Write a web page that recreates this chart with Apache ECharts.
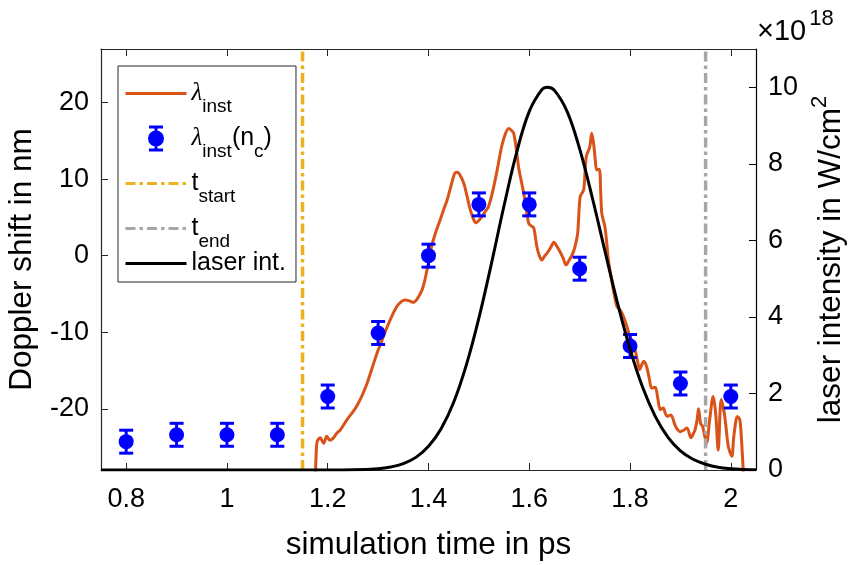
<!DOCTYPE html>
<html>
<head>
<meta charset="utf-8">
<script src="https://cdn.jsdelivr.net/npm/echarts@6/dist/echarts.min.js"></script>
<style>
  html, body { margin: 0; padding: 0; background: #fff; }
  #chart { width: 856px; height: 565px; }
</style>
</head>
<body>
<div id="chart"></div>
<script>
// Instantaneous Doppler shift (nm) over simulation time (ps)
const lambdaT = [1.175, 1.177, 1.179, 1.185, 1.192, 1.198, 1.204, 1.210, 1.218, 1.225, 1.238, 1.250, 1.258, 1.268, 1.278, 1.288, 1.298, 1.308, 1.318, 1.328,
  1.337, 1.346, 1.354, 1.362, 1.370, 1.378, 1.387, 1.392, 1.397, 1.402, 1.406, 1.414, 1.423, 1.430, 1.437, 1.445, 1.452, 1.457, 1.462, 1.470,
  1.476, 1.483, 1.489, 1.494, 1.500, 1.506, 1.512, 1.519, 1.526, 1.535, 1.540, 1.545, 1.552, 1.559, 1.564, 1.569, 1.574, 1.579, 1.584, 1.589,
  1.594, 1.599, 1.604, 1.609, 1.615, 1.620, 1.625, 1.630, 1.635, 1.642, 1.649, 1.655, 1.661, 1.667, 1.673, 1.679, 1.685, 1.690, 1.696, 1.701,
  1.708, 1.713, 1.720, 1.724, 1.728, 1.731, 1.734, 1.739, 1.742, 1.744, 1.750, 1.754, 1.757, 1.762, 1.767, 1.774, 1.779, 1.784, 1.789, 1.794,
  1.800, 1.805, 1.810, 1.815, 1.819, 1.823, 1.827, 1.833, 1.838, 1.843, 1.850, 1.855, 1.860, 1.866, 1.870, 1.874, 1.881, 1.889, 1.894, 1.899,
  1.906, 1.913, 1.921, 1.926, 1.929, 1.933, 1.936, 1.940, 1.944, 1.948, 1.952, 1.958, 1.965, 1.970, 1.975, 1.981, 1.988, 1.995, 2.002, 2.006,
  2.013, 2.018, 2.022, 2.025, 2.027];
const lambdaV = [-30, -26.0, -24.3, -23.8, -24.5, -23.6, -24.1, -23.9, -23.2, -22.75, -21.45, -20.4, -19.6, -18.3, -16.7, -14.7, -12.7, -11.0, -9.3, -7.8,
  -6.66, -6.0, -5.8, -5.9, -6.1, -5.6, -4.5, -3.4, -1.87, -0.2, 1.2, 3.0, 4.66, 6.0, 7.27, 9.2, 10.75, 10.9, 10.6, 9.45,
  7.9, 5.97, 4.8, 4.3, 4.6, 5.1, 5.7, 6.4, 8.0, 10.75, 12.5, 14.2, 15.8, 16.6, 16.4, 16.0, 14.0, 11.5, 9.8, 8.15,
  6.1, 4.2, 3.9, 3.6, 1.2, 0.0, -0.56, -0.1, 0.3, 1.0, 1.75, 1.2, 0.52, -0.3, -1.2, -0.6, 0.1, 1.0, 2.9, 7.7,
  8.6, 12.9, 14.2, 16.0, 14.5, 12.5, 11.2, 11.3, 8.0, 5.5, 3.8, 1.5, -0.56, -2.6, -4.5, -6.66, -7.0, -7.5, -8.3, -9.3,
  -10.6, -11.3, -12.3, -13.8, -14.9, -14.3, -13.8, -14.5, -16.0, -17.3, -17.2, -18.6, -20.1, -19.9, -20.6, -21.0, -20.8, -22.1, -22.7, -23.0,
  -22.8, -22.5, -23.8, -23.2, -22.75, -21.5, -20.0, -21.9, -22.3, -23.5, -24.5, -21.45, -18.4, -20.6, -25.4, -18.8, -21.0, -24.9, -26.2, -23.6,
  -21.0, -21.45, -24.9, -28.5, -31];

// Doppler shift at the critical density, with error bars
const ncT = [0.8, 0.9, 1.0, 1.1, 1.2, 1.3, 1.4, 1.5, 1.6, 1.7, 1.8, 1.9, 2.0];
const ncV = [-24.3, -23.4, -23.4, -23.4, -18.4, -10.1, 0.0, 6.7, 6.7, -1.7, -11.8, -16.7, -18.4];
const ncErr = [1.5, 1.5, 1.5, 1.5, 1.5, 1.5, 1.5, 1.5, 1.5, 1.5, 1.5, 1.5, 1.5];

// Laser intensity (units of 1e18 W/cm^2)
const laserT = [0.75, 1.10, 1.15, 1.20, 1.25, 1.30, 1.325, 1.35, 1.375, 1.40, 1.425, 1.45, 1.475, 1.50, 1.525, 1.55, 1.575, 1.60, 1.625, 1.636,
  1.65, 1.675, 1.70, 1.725, 1.75, 1.775, 1.80, 1.825, 1.85, 1.875, 1.90, 1.925, 1.95, 1.975, 2.00, 2.025, 2.05];
const laserI = [0, 0, 0.0001, 0.0007, 0.006, 0.035, 0.079, 0.167, 0.33, 0.62, 1.08, 1.77, 2.74, 3.97, 5.40, 6.91, 8.30, 9.37, 9.94, 10.0,
  9.92, 9.37, 8.39, 7.12, 5.73, 4.37, 3.16, 2.16, 1.40, 0.86, 0.50, 0.28, 0.15, 0.07, 0.034, 0.015, 0.006];

// Start / end markers of the analysis window (ps)
const tStart = 1.15;
const tEnd = 1.95;

// Axis ranges and tick labels
const xRange = [0.75, 2.05];
const xTicks = [0.8, 1, 1.2, 1.4, 1.6, 1.8, 2];
const leftRange = [-28, 27];
const leftTicks = [-20, -10, 0, 10, 20];
const rightRange = [0, 11];
const rightTicks = [0, 2, 4, 6, 8, 10];

const FONT = 'Liberation Sans';
const AX = '#262626';

const zip = (a, b) => a.map((v, i) => [v, b[i]]);

const legendNames = {
  lam: '{g|λ}{s|inst}',
  lamNc: '{g|λ}{s|inst}{m|(n}{s|c}{m|)}',
  tStart: '{m|t}{s|start}',
  tEnd: '{m|t}{s|end}',
  laser: '{l|laser int.}'
};

const errorBarIcon = 'path://M3,0 H17 V3 H3 Z M3,23 H17 V26 H3 Z M8.5,0 H11.5 V26 H8.5 Z M2,13 A8,8 0 1,1 18,13 A8,8 0 1,1 2,13 Z';
const hiddenSymbol = { opacity: 0 };

const chart = echarts.init(document.getElementById('chart'), null, { renderer: 'canvas' });

chart.setOption({
  animation: false,
  backgroundColor: '#fff',
  textStyle: { fontFamily: FONT },
  grid: { left: 101, right: 100, top: 49, bottom: 95, containLabel: false, outerBoundsMode: 'none' },
  legend: {
    orient: 'vertical',
    left: 118,
    top: 66,
    padding: [5, 10, 6, 6],
    itemGap: 0,
    itemWidth: 61,
    itemHeight: 26,
    selectedMode: false,
    backgroundColor: '#fff',
    borderColor: AX,
    borderWidth: 1,
    borderRadius: 0,
    lineStyle: { width: 3 },
    data: [
      { name: 'lam', itemStyle: hiddenSymbol },
      { name: 'lamNc', icon: errorBarIcon },
      { name: 'tStart', itemStyle: hiddenSymbol },
      { name: 'tEnd', itemStyle: hiddenSymbol },
      { name: 'laser', itemStyle: hiddenSymbol }
    ],
    formatter: (name) => legendNames[name],
    textStyle: {
      color: '#000',
      fontFamily: FONT,
      fontSize: 25,
      rich: {
        m: { fontSize: 25, lineHeight: 42, fontFamily: FONT, color: '#000' },
        l: { fontSize: 25, lineHeight: 34, fontFamily: FONT, color: '#000' },
        g: { fontSize: 25, lineHeight: 42, fontFamily: 'Liberation Serif', fontStyle: 'italic', color: '#000' },
        s: { fontSize: 19, lineHeight: 18, padding: [26, 0, 0, 0], fontFamily: FONT, color: '#000' }
      }
    }
  },
  xAxis: [
    {
      type: 'value',
      position: 'bottom',
      min: xRange[0],
      max: xRange[1],
      name: 'simulation time in ps',
      nameLocation: 'middle',
      nameGap: 59,
      nameTextStyle: { fontSize: 31.5, color: '#000', fontFamily: FONT },
      axisLine: { show: true, onZero: false, lineStyle: { color: AX, width: 1.2 } },
      axisTick: { show: true, inside: true, length: 7, customValues: xTicks, lineStyle: { color: AX } },
      axisLabel: { show: true, customValues: xTicks, margin: 16, fontSize: 27, color: '#000', fontFamily: FONT },
      splitLine: { show: false }
    },
    {
      type: 'value',
      position: 'top',
      min: xRange[0],
      max: xRange[1],
      axisLine: { show: true, onZero: false, lineStyle: { color: AX, width: 1.2 } },
      axisTick: { show: true, inside: true, length: 7, customValues: xTicks, lineStyle: { color: AX } },
      axisLabel: { show: false },
      splitLine: { show: false }
    }
  ],
  yAxis: [
    {
      type: 'value',
      position: 'left',
      min: leftRange[0],
      max: leftRange[1],
      name: 'Doppler shift in nm',
      nameLocation: 'middle',
      nameGap: 63,
      nameTextStyle: { fontSize: 31.5, color: '#000', fontFamily: FONT },
      axisLine: { show: true, onZero: false, lineStyle: { color: AX, width: 1.2 } },
      axisTick: { show: true, inside: true, length: 7, customValues: leftTicks, lineStyle: { color: AX } },
      axisLabel: { show: true, customValues: leftTicks, margin: 12, fontSize: 27, color: '#000', fontFamily: FONT },
      splitLine: { show: false }
    },
    {
      type: 'value',
      position: 'right',
      min: rightRange[0],
      max: rightRange[1],
      name: '{m|laser intensity in W/cm}{p|2}',
      nameLocation: 'middle',
      nameGap: 56,
      nameTextStyle: {
        color: '#000',
        fontFamily: FONT,
        rich: {
          m: { fontSize: 31.5, fontFamily: FONT, color: '#000', lineHeight: 36 },
          p: { fontSize: 22, fontFamily: FONT, color: '#000', lineHeight: 14, padding: [0, 0, 22, 0] }
        }
      },
      axisLine: { show: true, onZero: false, lineStyle: { color: '#000', width: 1.2 } },
      axisTick: { show: true, inside: true, length: 7, customValues: rightTicks, lineStyle: { color: '#000' } },
      axisLabel: { show: true, customValues: rightTicks, margin: 12, fontSize: 27, color: '#000', fontFamily: FONT },
      splitLine: { show: false }
    }
  ],
  graphic: [
    {
      type: 'text',
      left: 757,
      top: 8,
      style: {
        text: '{m|×10}{p|18}',
        rich: {
          m: { fontSize: 29, fontFamily: FONT, fill: '#000', lineHeight: 32 },
          p: { fontSize: 22, fontFamily: FONT, fill: '#000', lineHeight: 10, padding: [0, 0, 26, 3] }
        }
      }
    }
  ],
  series: [
    {
      name: 'lam',
      type: 'line',
      xAxisIndex: 0,
      yAxisIndex: 0,
      data: zip(lambdaT, lambdaV),
      symbol: 'none',
      smooth: 0.3,
      clip: true,
      color: '#D95319',
      lineStyle: { color: '#D95319', width: 3 },
      z: 2
    },
    {
      name: 'lamNcErr',
      type: 'custom',
      xAxisIndex: 0,
      yAxisIndex: 0,
      data: ncT.map((t, i) => [t, ncV[i], ncErr[i]]),
      renderItem: (params, api) => {
        const x = api.value(0), y = api.value(1), e = api.value(2);
        const top = api.coord([x, y + e]);
        const bot = api.coord([x, y - e]);
        const hw = 7;
        const st = { stroke: '#0000FF', lineWidth: 3 };
        return {
          type: 'group',
          children: [
            { type: 'line', shape: { x1: top[0], y1: top[1], x2: bot[0], y2: bot[1] }, style: st },
            { type: 'line', shape: { x1: top[0] - hw, y1: top[1], x2: top[0] + hw, y2: top[1] }, style: st },
            { type: 'line', shape: { x1: bot[0] - hw, y1: bot[1], x2: bot[0] + hw, y2: bot[1] }, style: st }
          ]
        };
      },
      z: 3
    },
    {
      name: 'lamNc',
      type: 'scatter',
      xAxisIndex: 0,
      yAxisIndex: 0,
      data: zip(ncT, ncV),
      symbol: 'circle',
      symbolSize: 15,
      color: '#0000FF',
      itemStyle: { color: '#0000FF', opacity: 1 },
      z: 4
    },
    {
      name: 'tStart',
      type: 'line',
      xAxisIndex: 0,
      yAxisIndex: 0,
      data: [[tStart, leftRange[0]], [tStart, leftRange[1]]],
      symbol: 'none',
      color: '#EDB120',
      lineStyle: { color: '#EDB120', width: 3.5, type: [10, 4, 3.5, 4] },
      z: 5
    },
    {
      name: 'tEnd',
      type: 'line',
      xAxisIndex: 0,
      yAxisIndex: 0,
      data: [[tEnd, leftRange[0]], [tEnd, leftRange[1]]],
      symbol: 'none',
      color: '#A6A6A6',
      lineStyle: { color: '#A6A6A6', width: 3.5, type: [10, 4, 3.5, 4] },
      z: 5
    },
    {
      name: 'laser',
      type: 'line',
      xAxisIndex: 0,
      yAxisIndex: 1,
      data: zip(laserT, laserI),
      symbol: 'none',
      smooth: 0.4,
      color: '#000',
      lineStyle: { color: '#000', width: 3 },
      z: 6
    }
  ]
});
</script>
</body>
</html>
